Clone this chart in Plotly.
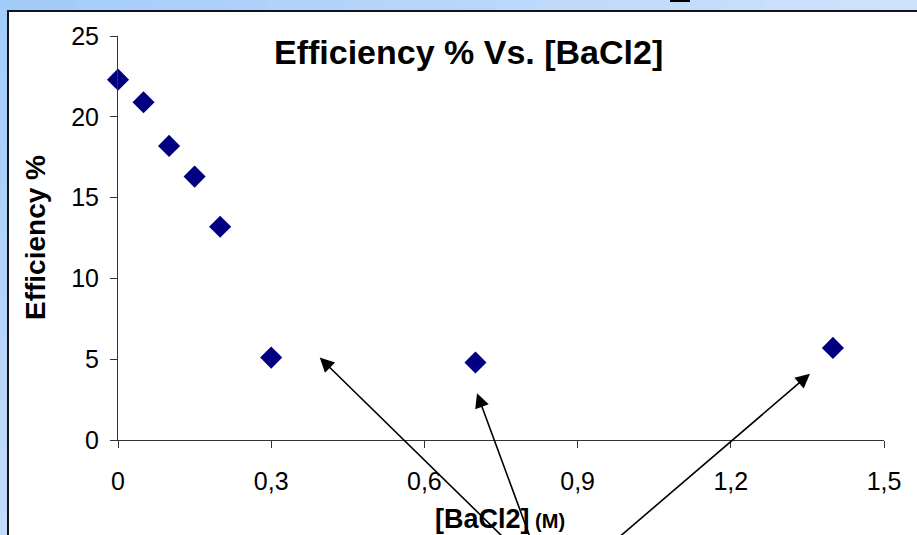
"""Efficiency % versus BaCl2 concentration, scatter with callout arrows."""

import plotly.graph_objects as go

# data
bacl2_molar = [0, 0.05, 0.1, 0.15, 0.2, 0.3, 0.7, 1.4]
efficiency_pct = [22.3, 20.9, 18.2, 16.3, 13.2, 5.1, 4.8, 5.7]

x_tick_vals = [0, 0.3, 0.6, 0.9, 1.2, 1.5]
x_tick_text = ["0", "0,3", "0,6", "0,9", "1,2", "1,5"]
y_tick_vals = [0, 5, 10, 15, 20, 25]

# callout arrows: (head x, head y, tail x, tail y) in data units
arrows = [
    (0.395, 5.1, 0.799, -7.4),
    (0.703, 2.9, 0.823, -7.4),
    (1.355, 4.1, 0.930, -7.4),
]

W, H = 917, 535
L, R, T, B = 118, 33, 36, 95
PW, PH = W - L - R, H - T - B


def px(xp):
    return (xp - L) / PW


def py(yp):
    return (H - B - yp) / PH


FONT = "Liberation Sans, Arial, sans-serif"

fig = go.Figure()
fig.add_trace(go.Scatter(
    x=bacl2_molar,
    y=efficiency_pct,
    mode="markers",
    marker=dict(symbol="diamond", size=17, color="#000080", line=dict(width=0)),
    cliponaxis=False,
    hoverinfo="x+y",
    showlegend=False,
))

shapes = []
# slide background strips (light blue gradient)
n = 24
for i in range(n):
    t = i / (n - 1)
    r = int(0xa4 + (0xcf - 0xa4) * t)
    g = int(0xcc + (0xe2 - 0xcc) * t)
    b = int(0xf9 + (0xfb - 0xf9) * t)
    shapes.append(dict(type="rect", xref="paper", yref="paper",
                       x0=px(W * i / n), x1=px(W * (i + 1) / n + 1), y0=py(11), y1=py(0),
                       fillcolor=f"rgb({r},{g},{b})", line=dict(width=0), layer="below"))
for i in range(n):
    t = i / (n - 1)
    r = int(0xa4 + (0xc2 - 0xa4) * t)
    g = int(0xcc + (0xdc - 0xcc) * t)
    shapes.append(dict(type="rect", xref="paper", yref="paper",
                       x0=px(0), x1=px(8), y0=py(11 + (H - 11) * (i + 1) / n + 1),
                       y1=py(11 + (H - 11) * i / n),
                       fillcolor=f"rgb({r},{g},250)", line=dict(width=0), layer="below"))
# white chart panel with dark edge
shapes.append(dict(type="rect", xref="paper", yref="paper",
                   x0=px(8), x1=px(W + 5), y0=py(H + 5), y1=py(11),
                   fillcolor="white", line=dict(color="#10131c", width=2), layer="below"))
# small dark mark at top edge
shapes.append(dict(type="rect", xref="paper", yref="paper",
                   x0=px(670), x1=px(690), y0=py(2), y1=py(0),
                   fillcolor="black", line=dict(width=0), layer="below"))

annotations = [
    dict(text="<b>Efficiency % Vs. [BaCl2]</b>", xref="paper", yref="paper",
         x=px(468), y=py(52), xanchor="center", yanchor="middle", showarrow=False,
         font=dict(size=34, color="black", family=FONT)),
    dict(text="<b>Efficiency %</b>", xref="paper", yref="paper", textangle=-90,
         x=px(35), y=py(238), xanchor="center", yanchor="middle", showarrow=False,
         font=dict(size=28, color="black", family=FONT)),
    dict(text="<b>[BaCl2]</b><span style='font-size:20px'><b> (M)</b></span>",
         xref="paper", yref="paper", x=px(500), y=py(519), xanchor="center",
         yanchor="middle", showarrow=False,
         font=dict(size=27, color="black", family=FONT)),
]
for hx, hy, tx, ty in arrows:
    annotations.append(dict(
        x=hx, y=hy, xref="x", yref="y", ax=tx, ay=ty, axref="x", ayref="y",
        text="", showarrow=True, arrowhead=2, arrowsize=1.8, arrowwidth=1.6,
        arrowcolor="black", standoff=0,
    ))

fig.update_layout(
    width=W, height=H,
    margin=dict(l=L, r=R, t=T, b=B),
    paper_bgcolor="#a9cffa",
    plot_bgcolor="rgba(0,0,0,0)",
    shapes=shapes,
    annotations=annotations,
    font=dict(family=FONT, color="black"),
)
fig.update_xaxes(
    range=[0, 1.5], tickvals=x_tick_vals, ticktext=x_tick_text,
    showgrid=False, zeroline=False, showline=True, linecolor="#333333", linewidth=1,
    ticks="outside", ticklen=7, tickcolor="#333333", tickwidth=1,
    tickfont=dict(size=25, family=FONT, color="black"), ticklabelstandoff=12,
)
fig.update_yaxes(
    range=[0, 25], tickvals=y_tick_vals,
    showgrid=False, zeroline=False, showline=True, linecolor="#333333", linewidth=1,
    ticks="outside", ticklen=7, tickcolor="#333333", tickwidth=1,
    tickfont=dict(size=25, family=FONT, color="black"), ticklabelstandoff=6,
)

# drop the page's default body margin so the figure sits at the window corner
fig.write_html("out.html", config={"displayModeBar": False},
               post_script="document.body.style.margin='0';")
